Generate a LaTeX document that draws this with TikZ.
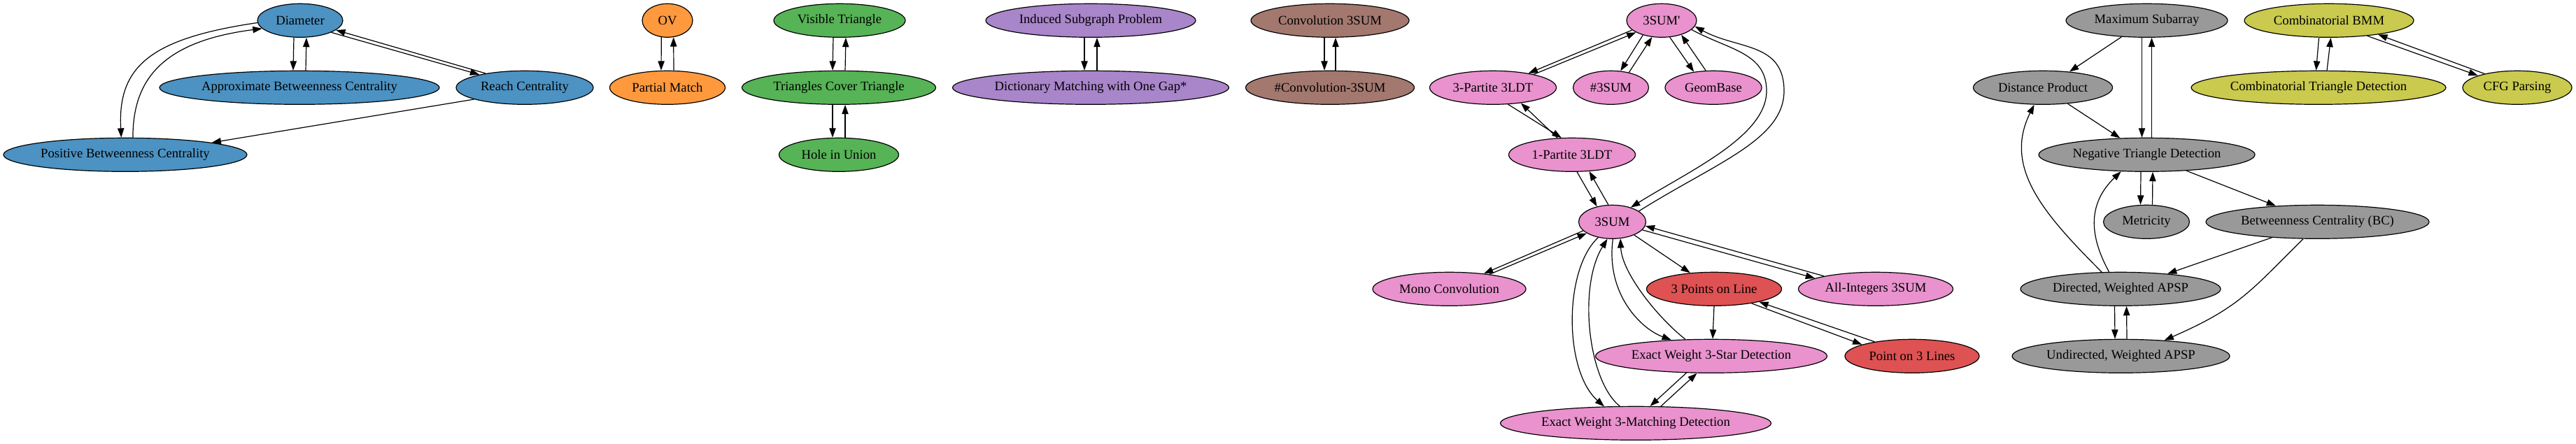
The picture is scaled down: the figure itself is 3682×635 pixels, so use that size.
\documentclass[tikz,border=0pt]{standalone}
\usepackage{fontspec}
\setmainfont{Liberation Serif}
\usetikzlibrary{shapes.geometric,arrows.meta,calc}
\definecolor{cblue}{HTML}{4C92C3}
\definecolor{corange}{HTML}{FF993E}
\definecolor{cgreen}{HTML}{56B356}
\definecolor{cred}{HTML}{DE5253}
\definecolor{cpurple}{HTML}{A985CA}
\definecolor{cbrown}{HTML}{A3786F}
\definecolor{cpink}{HTML}{E992CE}
\definecolor{cgray}{HTML}{999999}
\definecolor{colive}{HTML}{C9CA4E}
\begin{document}
\begin{tikzpicture}[x=0.75pt,y=-0.75pt,
  nd/.style={ellipse,draw=black,line width=0.9pt,inner sep=0pt,minimum height=36pt,font=\fontsize{14}{16}\selectfont},
  ar/.style={-{Triangle[length=10pt,width=7pt]},line width=0.9pt}]
\useasboundingbox (0,0) rectangle (3682,635);
% ---------- blue
\node[nd,fill=cblue,minimum width=91.5pt] (diam) at (429,29.3) {Diameter};
\node[nd,fill=cblue,minimum width=300pt] (abc) at (428,125.3) {Approximate Betweenness Centrality};
\node[nd,fill=cblue,minimum width=147pt] (reach) at (750,125.3) {Reach Centrality};
\node[nd,fill=cblue,minimum width=261pt] (pbc) at (179,221.3) {Positive Betweenness Centrality};
% ---------- orange
\node[nd,fill=corange,minimum width=54pt] (ov) at (954,29.3) {OV};
\node[nd,fill=corange,minimum width=123.75pt] (pm) at (954,125.3) {Partial Match};
% ---------- green
\node[nd,fill=cgreen,minimum width=141pt] (vt) at (1200,29.3) {Visible Triangle};
\node[nd,fill=cgreen,minimum width=207.75pt] (tct) at (1199,125.3) {Triangles Cover Triangle};
\node[nd,fill=cgreen,minimum width=128.25pt] (hiu) at (1199,221.3) {Hole in Union};
% ---------- purple
\node[nd,fill=cpurple,minimum width=225pt] (isp) at (1559,29.3) {Induced Subgraph Problem};
\node[nd,fill=cpurple,minimum width=296.25pt] (dmg) at (1559,125.3) {Dictionary Matching with One Gap*};
% ---------- brown
\node[nd,fill=cbrown,minimum width=169.5pt] (c3) at (1901,29.3) {Convolution 3SUM};
\node[nd,fill=cbrown,minimum width=180.75pt] (hc3) at (1901,125.3) {\#Convolution-3SUM};
% ---------- pink / red
\node[nd,fill=cpink,minimum width=75pt] (s3p) at (2375,29.3) {3SUM\textquotesingle};
\node[nd,fill=cpink,minimum width=135.75pt] (p3ldt) at (2134,125.3) {3-Partite 3LDT};
\node[nd,fill=cpink,minimum width=81pt] (h3sum) at (2302.5,125.3) {\#3SUM};
\node[nd,fill=cpink,minimum width=103.5pt] (geom) at (2449,125.3) {GeomBase};
\node[nd,fill=cpink,minimum width=135.75pt] (p1ldt) at (2247,221.3) {1-Partite 3LDT};
\node[nd,fill=cpink,minimum width=72pt] (s3) at (2304.5,317.3) {3SUM};
\node[nd,fill=cpink,minimum width=164.25pt] (mono) at (2071.5,413.3) {Mono Convolution};
\node[nd,fill=cred,minimum width=144.75pt] (tpl) at (2450,413.3) {3 Points on Line};
\node[nd,fill=cpink,minimum width=165.75pt] (ai3) at (2681,413.3) {All-Integers 3SUM};
\node[nd,fill=cpink,minimum width=248.25pt] (star) at (2446,509.3) {Exact Weight 3-Star Detection};
\node[nd,fill=cred,minimum width=144pt] (p3l) at (2733,509.3) {Point on 3 Lines};
\node[nd,fill=cpink,minimum width=290.25pt] (match) at (2338,605.3) {Exact Weight 3-Matching Detection};
% ---------- gray
\node[nd,fill=cgray,minimum width=173.25pt] (msa) at (3068.5,29.3) {Maximum Subarray};
\node[nd,fill=cgray,minimum width=149.25pt] (dp) at (2920,125.3) {Distance Product};
\node[nd,fill=cgray,minimum width=231.75pt] (ntd) at (3068.5,221.3) {Negative Triangle Detection};
\node[nd,fill=cgray,minimum width=92.25pt] (met) at (3068,317.3) {Metricity};
\node[nd,fill=cgray,minimum width=239.25pt] (bc) at (3312.5,317.3) {Betweenness Centrality (BC)};
\node[nd,fill=cgray,minimum width=214.5pt] (dapsp) at (3031,413.3) {Directed, Weighted APSP};
\node[nd,fill=cgray,minimum width=233.25pt] (uapsp) at (3031.5,509.3) {Undirected, Weighted APSP};
% ---------- olive
\node[nd,fill=colive,minimum width=181.5pt] (cbmm) at (3329,29.3) {Combinatorial BMM};
\node[nd,fill=colive,minimum width=273pt] (ctd) at (3314,125.3) {Combinatorial Triangle Detection};
\node[nd,fill=colive,minimum width=117pt] (cfg) at (3598,125.3) {CFG Parsing};
% ================= edges
% blue
\draw[ar] ($(diam.south)+(-9,0)$) -- ($(abc.north)+(-9,0)$);
\draw[ar] ($(abc.north)+(9,0)$) -- ($(diam.south)+(9,0)$);
\draw[ar] (diam.339) -- (reach.164);
\draw[ar] (reach.160) -- (diam.345);
\draw[ar] (diam.183) .. controls (215,55) and (168,95) .. (pbc.103);
\draw[ar] (pbc.66) .. controls (190,120) and (225,60) .. (diam.192);
\draw[ar] (reach.193) -- (pbc.8);
% orange
\draw[ar] (ov.250) -- ($(pm.north)+(-9,0)$);
\draw[ar] ($(pm.north)+(9,0)$) -- (ov.290);
% green
\draw[ar] ($(vt.south)+(-9,0)$) -- ($(tct.north)+(-9,0)$);
\draw[ar] ($(tct.north)+(9,0)$) -- ($(vt.south)+(9,0)$);
\draw[ar] ($(tct.south)+(-9,0)$) -- ($(hiu.north)+(-9,0)$);
\draw[ar] ($(hiu.north)+(9,0)$) -- ($(tct.south)+(9,0)$);
% purple
\draw[ar] ($(isp.south)+(-9,0)$) -- ($(dmg.north)+(-9,0)$);
\draw[ar] ($(dmg.north)+(9,0)$) -- ($(isp.south)+(9,0)$);
% brown
\draw[ar] ($(c3.south)+(-8,0)$) -- ($(hc3.north)+(-8,0)$);
\draw[ar] ($(hc3.north)+(8,0)$) -- ($(c3.south)+(8,0)$);
% pink
\draw[ar] (s3p.198) -- (p3ldt.22);
\draw[ar] (p3ldt.18) -- (s3p.205);
\draw[ar] (s3p.218) -- (h3sum.60);
\draw[ar] (h3sum.40) -- (s3p.240);
\draw[ar] (s3p.296) -- (geom.141);
\draw[ar] (geom.114) -- (s3p.324);
\draw[ar] (s3p.343) .. controls (2470,71) and (2525,75) .. (2525,130) .. controls (2525,195) and (2415,244) .. (s3.38);
\draw[ar] (s3.22) .. controls (2452,233) and (2550,200) .. (2550,130) .. controls (2550,60) and (2483,71) .. (s3p.350);
\draw[ar] (p3ldt.312) -- (p1ldt.122);
\draw[ar] (p1ldt.131) -- (p3ldt.331);
\draw[ar] (p1ldt.286) -- (s3.135);
\draw[ar] (s3.103) -- (p1ldt.316);
\draw[ar] (s3.197) -- (mono.24);
\draw[ar] (mono.20) -- (s3.204);
\draw[ar] (s3.329) -- (tpl.146);
\draw[ar] (s3.345) -- (ai3.170);
\draw[ar] (ai3.166) -- (s3.353);
\draw[ar] (s3.272) .. controls (2295,420) and (2345,470) .. (star.158);
\draw[ar] (star.147) .. controls (2370,455) and (2318,390) .. (s3.296);
\draw[ar] (s3.228) .. controls (2235,385) and (2235,530) .. (match.152);
\draw[ar] (match.133) .. controls (2270,545) and (2255,410) .. (s3.254);
\draw[ar] (tpl.south) -- ($(star.north)+(2,0)$);
\draw[ar] (tpl.339) -- (p3l.167);
\draw[ar] (p3l.159) -- (tpl.344);
\draw[ar] (star.214) -- (match.50);
\draw[ar] (match.34) -- (star.230);
% gray
\draw[ar] (msa.213) -- (dp.31);
\draw[ar] ($(msa.south)+(-7,0)$) -- ($(ntd.north)+(-7,0)$);
\draw[ar] ($(ntd.north)+(7,0)$) -- ($(msa.south)+(7,0)$);
\draw[ar] (dp.327) -- (ntd.148);
\draw[ar] ($(ntd.south)+(-8.5,0)$) -- ($(met.north)+(-8.5,0)$);
\draw[ar] ($(met.north)+(8.5,0)$) -- ($(ntd.south)+(8.5,0)$);
\draw[ar] (ntd.338) -- (bc.159);
\draw[ar] (bc.199) -- (dapsp.18);
\draw[ar] (bc.230) .. controls (3215,418) and (3200,440) .. (uapsp.20);
\draw[ar] (dapsp.138) .. controls (2920,305) and (2863,239) .. (dp.243);
\draw[ar] (dapsp.124) .. controls (2985,335) and (2985,290) .. (ntd.213);
\draw[ar] ($(dapsp.south)+(-8.5,0)$) -- ($(uapsp.north)+(-8.5,0)$);
\draw[ar] ($(uapsp.north)+(8.5,0)$) -- ($(dapsp.south)+(8.5,0)$);
% olive
\draw[ar] ($(cbmm.south)+(-14.5,0)$) -- ($(ctd.north)+(-3.5,0)$);
\draw[ar] ($(ctd.north)+(12,0)$) -- ($(cbmm.south)+(2.5,0)$);
\draw[ar] (cbmm.338) -- (cfg.163);
\draw[ar] (cfg.157) -- (cbmm.344);
\end{tikzpicture}
\end{document}
